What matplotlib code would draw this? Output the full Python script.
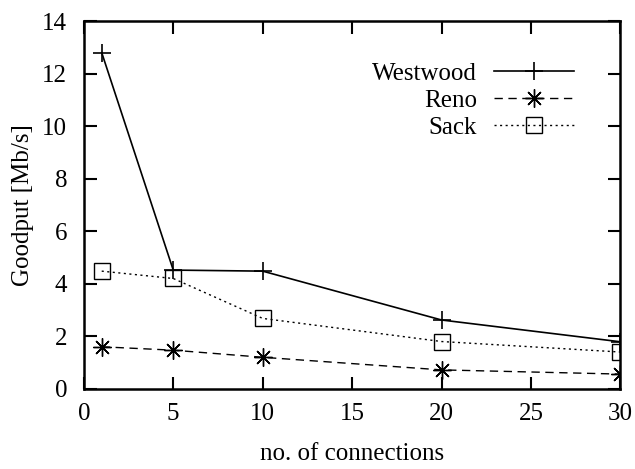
import matplotlib.pyplot as plt

plt.rcParams['font.family'] = ['Liberation Serif', 'DejaVu Serif']

# Goodput vs. number of connections
connections = [1, 5, 10, 20, 30]
westwood = [12.8, 4.52, 4.48, 2.62, 1.79]
reno = [1.6, 1.47, 1.2, 0.72, 0.56]
sack = [4.48, 4.2, 2.68, 1.8, 1.4]

fig = plt.figure(figsize=(6.35, 4.69), dpi=100)
ax = fig.add_axes([0.132, 0.171, 0.845, 0.784])

ax.plot(connections, westwood, color='black', lw=1.2, ls='-',
        marker='+', ms=13, mew=1.2, label='Westwood')
ax.plot(connections, reno, color='black', lw=1.0, ls=(0, (6, 4)),
        marker=(8, 2, 0), ms=13, mew=1.0, label='Reno')
ax.plot(connections, sack, color='black', lw=1.0, ls=(0, (1.5, 2.5)),
        marker='s', ms=11, mew=1.0, mfc='none', label='Sack')

ax.set_xlim(0, 30)
ax.set_ylim(0, 14)
ax.set_xticks([0, 5, 10, 15, 20, 25, 30])
ax.set_yticks(range(0, 15, 2))
ax.tick_params(direction='in', top=True, right=True, length=9, width=1.5,
               labelsize=18)
ax.tick_params(axis='y', pad=12)
ax.tick_params(axis='x', pad=10)
for s in ax.spines.values():
    s.set_linewidth(1.8)

ax.set_xlabel('no. of connections', fontsize=18, labelpad=13)
ax.set_ylabel('Goodput [Mb/s]', fontsize=18, labelpad=6)

ax.legend(loc='upper right', bbox_to_anchor=(0.947, 0.935), frameon=False,
          markerfirst=False, fontsize=18, handlelength=3.2,
          labelspacing=0.17, handletextpad=0.7, borderpad=0.2)

fig.savefig('out.png', dpi=100)
